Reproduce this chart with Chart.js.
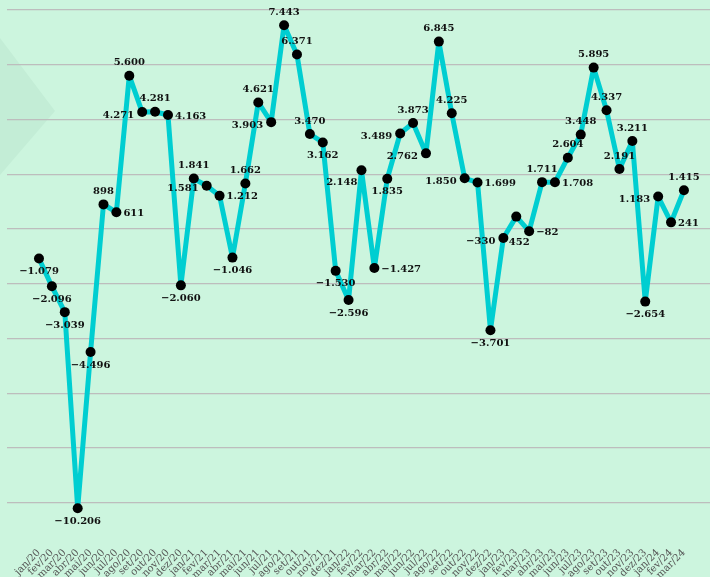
<!DOCTYPE html>
<html>
<head>
<meta charset="utf-8">
<script src="https://cdn.jsdelivr.net/npm/chart.js@4/dist/chart.umd.min.js"></script>
<style>
  html, body { margin: 0; padding: 0; background: #CCF5DE; }
  #wrap { width: 710px; height: 577px; }
</style>
</head>
<body>
<div id="wrap"><canvas id="c" width="710" height="577"></canvas></div>
<script>
const months = ['jan/20','fev/20','mar/20','abr/20','mai/20','jun/20','jul/20','ago/20','set/20','out/20','nov/20','dez/20',
  'jan/21','fev/21','mar/21','abr/21','mai/21','jun/21','jul/21','ago/21','set/21','out/21','nov/21','dez/21',
  'jan/22','fev/22','mar/22','abr/22','mai/22','jun/22','jul/22','ago/22','set/22','out/22','nov/22','dez/22',
  'jan/23','fev/23','mar/23','abr/23','mai/23','jun/23','jul/23','ago/23','set/23','out/23','nov/23','dez/23',
  'jan/24','fev/24','mar/24'];
const saldo = [-1079,-2096,-3039,-10206,-4496,898,611,5600,4271,4281,4163,-2060,
  1841,1581,1212,-1046,1662,4621,3903,7443,6371,3470,3162,-1530,
  -2596,2148,-1427,1835,3489,3873,2762,6845,4225,1850,1699,-3701,
  -330,452,-82,1711,1708,2604,3448,5895,4337,2191,3211,-2654,
  1183,241,1415];
const yGridValues = [-10000,-8000,-6000,-4000,-2000,0,2000,4000,6000,8000];
// label placement: a=above, b=below, bb=far below, l=left, r=right, bl=below-left
const labelPlace = ['b','b','b','b','b','a','r','a','l','a','r','b',
  'a','l','r','b','a','a','l','a','a','a','b','b',
  'b','bl','r','b','l','a','l','a','a','l','r','b',
  'l','bb','r','a','r','a','a','a','a','a','a','b',
  'l','r','a'];

function fmt(v) {
  return v.toLocaleString('pt-BR').replace('-', '\u2212');
}

const bgShape = {
  id: 'bgShape',
  beforeDraw(chart) {
    const ctx = chart.ctx;
    ctx.save();
    ctx.fillStyle = 'rgb(195,237,214)';
    ctx.beginPath();
    ctx.moveTo(0, 38);
    ctx.lineTo(55, 111);
    ctx.lineTo(0, 175);
    ctx.closePath();
    ctx.fill();
    ctx.restore();
  }
};

const valueLabels = {
  id: 'valueLabels',
  afterDatasetsDraw(chart) {
    const ctx = chart.ctx;
    const meta = chart.getDatasetMeta(0);
    ctx.save();
    ctx.font = 'bold 10px "DejaVu Serif"';
    ctx.fillStyle = '#111';
    meta.data.forEach((pt, i) => {
      const txt = fmt(saldo[i]);
      const p = labelPlace[i];
      let x = pt.x, y = pt.y;
      ctx.textBaseline = 'middle';
      if (p === 'a') { ctx.textAlign = 'center'; y -= 13; }
      else if (p === 'b') { ctx.textAlign = 'center'; y += 13; }
      else if (p === 'bb') { ctx.textAlign = 'center'; x += 3; y += 26; }
      else if (p === 'l') { ctx.textAlign = 'right'; x -= 8; y += 3; }
      else if (p === 'r') { ctx.textAlign = 'left'; x += 7; y += 1; }
      else if (p === 'bl') { ctx.textAlign = 'right'; x -= 4; y += 12; }
      ctx.fillText(txt, x, y);
    });
    ctx.restore();
  }
};

new Chart(document.getElementById('c'), {
  type: 'line',
  data: {
    datasets: [{
      data: saldo.map((v, i) => ({ x: i, y: v })),
      borderColor: '#00CED1',
      borderWidth: 5,
      borderJoinStyle: 'round',
      tension: 0,
      pointRadius: 5,
      pointHoverRadius: 5,
      pointBackgroundColor: '#000',
      pointBorderWidth: 0,
      fill: false,
      clip: false
    }]
  },
  options: {
    responsive: false,
    animation: false,
    layout: { autoPadding: false, padding: { left: 7, top: 10, right: 0, bottom: 0 } },
    plugins: { legend: { display: false }, tooltip: { enabled: false } },
    scales: {
      x: {
        type: 'linear',
        min: -2.48,
        max: 52.02,
        grid: { display: false, drawTicks: false },
        border: { display: false },
        afterFit: (s) => { s.height = 36; s.paddingRight = 0; s.paddingLeft = 0; },
        ticks: {
          stepSize: 1,
          autoSkip: false,
          minRotation: 45,
          maxRotation: 45,
          padding: 6,
          color: '#555',
          font: { family: '"DejaVu Serif"', size: 10 },
          callback: (v) => (Number.isInteger(v) && months[v] !== undefined) ? months[v] : ''
        }
      },
      y: {
        min: -11400,
        max: 8000,
        border: { display: false },
        afterBuildTicks: (s) => { s.ticks = yGridValues.map(v => ({ value: v })); },
        grid: {
          drawTicks: false,
          lineWidth: 1.2,
          color: '#BDBDBD'
        },
        ticks: { display: false, autoSkip: false }
      }
    }
  },
  plugins: [bgShape, valueLabels]
});
</script>
</body>
</html>
